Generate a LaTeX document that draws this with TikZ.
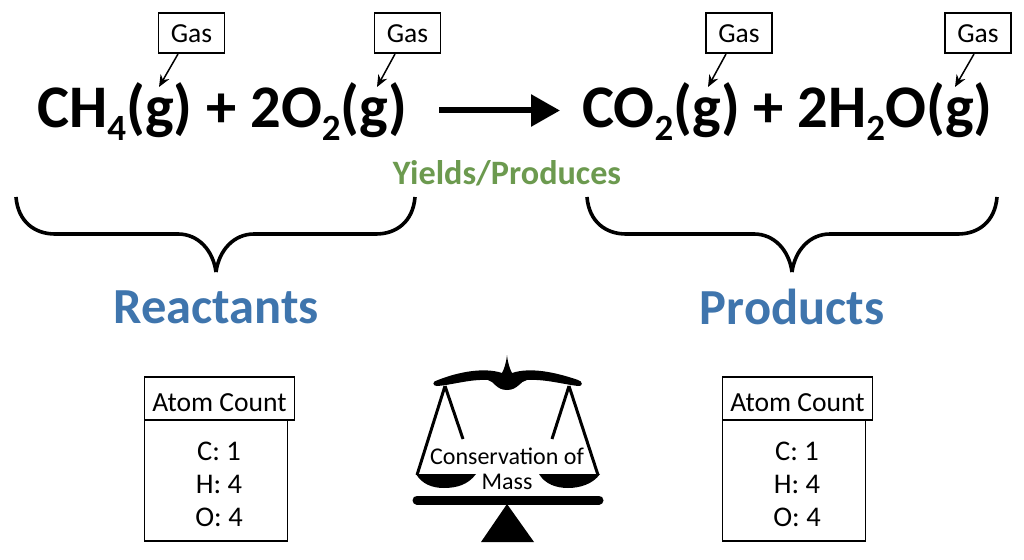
\documentclass[tikz,border=0pt]{standalone}
\usepackage{fontspec}
\setmainfont{Carlito}
\usetikzlibrary{arrows.meta}
\definecolor{bluetxt}{HTML}{3F75AD}
\definecolor{greentxt}{HTML}{6C9A4F}
\newcommand{\chemsub}[1]{\raisebox{-13pt}{\fontsize{37}{37}\selectfont #1}}
\tikzset{
  gasbox/.style={draw=black,line width=1.3pt,minimum width=66pt,minimum height=40pt,inner sep=0pt,text height=20pt,text depth=0pt,font=\fontsize{27.5}{27.5}\selectfont},
  gasarrow/.style={line width=1.5pt,-{Stealth[length=12pt,width=10pt]}},
  formula/.style={inner sep=0pt,font=\fontsize{60.5}{60.5}\selectfont\bfseries,anchor=base west},
  brace/.style={line width=3.6pt,line cap=butt},
  grouplabel/.style={inner sep=0pt,font=\fontsize{50.5}{50.5}\selectfont\bfseries,text=bluetxt},
  countbox/.style={draw=black,line width=1.3pt,inner sep=0pt},
  counthead/.style={countbox,minimum width=150pt,minimum height=43pt,text height=25pt,text depth=0pt,font=\fontsize{27.6}{27.6}\selectfont},
  counttext/.style={inner sep=0pt,font=\fontsize{28.5}{28.5}\selectfont,align=center},
  scaleline/.style={line width=3pt}
}
\begin{document}
\begin{tikzpicture}[x=1pt,y=-1pt]
\useasboundingbox (0,0) rectangle (1024,559);
\fill[white] (0,0) rectangle (1024,559);
% formulas
\node[formula] (left) at (37,128) {CH\chemsub{4}(g) + 2O\chemsub{2}(g)};
\node[formula] (right) at (582,128) {CO\chemsub{2}(g) + 2H\chemsub{2}O(g)};
% gas boxes
\node[gasbox] (g1) at (191.5,33) {Gas};
\node[gasbox] (g2) at (407.5,33) {Gas};
\node[gasbox] (g3) at (739,33) {Gas};
\node[gasbox] (g4) at (978,33) {Gas};
\coordinate (s1) at (178,54);
\coordinate (s2) at (395,54);
\coordinate (s3) at (726,54);
\coordinate (s4) at (974,54);
\coordinate (t1) at (159,87);
\coordinate (t2) at (377,87);
\coordinate (t3) at (708,87);
\coordinate (t4) at (955,87);
\draw[gasarrow] (s1) -- (t1);
\draw[gasarrow] (s2) -- (t2);
\draw[gasarrow] (s3) -- (t3);
\draw[gasarrow] (s4) -- (t4);
% arrow
\coordinate (a1) at (439,110.5);
\coordinate (a2) at (560,110.5);
\draw[line width=6pt,-{Triangle[length=29pt,width=31pt]}] (a1) -- (a2);
\node[inner sep=0pt,font=\fontsize{34.2}{34.2}\selectfont\bfseries,text=greentxt] (yields) at (507,173) {Yields/Produces};
% braces
\draw[brace] (16,197) .. controls (18,222) and (35,234) .. (55,234) -- (178,234) .. controls (198,234) and (213,250) .. (216,272);
\draw[brace] (415,197) .. controls (413,222) and (396,234) .. (376,234) -- (254,234) .. controls (234,234) and (219,250) .. (216,272);
\draw[brace] (587,197) .. controls (589,222) and (606,234) .. (626,234) -- (754,234) .. controls (774,234) and (789,250) .. (792,272);
\draw[brace] (997,197) .. controls (995,222) and (978,234) .. (958,234) -- (830,234) .. controls (810,234) and (795,250) .. (792,272);
\node[grouplabel] (reactants) at (216,307) {Reactants};
\node[grouplabel] (products) at (792,307) {Products};
% atom count left
\draw[countbox] (144.5,420) rectangle (287.5,541);
\node[counthead] (ac1) at (219.5,398.5) {Atom Count};
\node[counttext] (c1) at (219,451) {C: 1};
\node[counttext] (h1) at (219,484) {H: 4};
\node[counttext] (o1) at (219,517) {O: 4};
% atom count right
\draw[countbox] (722.5,420) rectangle (865.5,541);
\node[counthead] (ac2) at (797.5,398.5) {Atom Count};
\node[counttext] (c2) at (797,451) {C: 1};
\node[counttext] (h2) at (797,484) {H: 4};
\node[counttext] (o2) at (797,517) {O: 4};
% scale
\fill[black] (507,355) .. controls (508,364) and (510,369) .. (512,373)
  .. controls (530,367) and (555,372) .. (578,380)
  .. controls (583,381) and (583,387) .. (578,386)
  .. controls (562,384) and (545,379) .. (527,380)
  .. controls (520,381) and (518,390) .. (507,390)
  .. controls (496,390) and (494,381) .. (488,380)
  .. controls (470,379) and (452,385) .. (437,386)
  .. controls (432,386) and (432,381) .. (438,380)
  .. controls (458,372) and (484,367) .. (502,373)
  .. controls (504,369) and (506,364) .. (507,355) -- cycle;
\draw[scaleline] (445,386) -- (417,475);
\draw[scaleline] (445,386) -- (463,439);
\draw[scaleline] (569,386) -- (598,475);
\draw[scaleline] (569,386) -- (552,439);
\fill[black] (416,474) -- (476,474) .. controls (468,485) and (456,488) .. (444,488) .. controls (432,488) and (422,484) .. (416,474) -- cycle;
\fill[black] (539,474) -- (600,474) .. controls (593,484) and (580,488) .. (568,488) .. controls (556,488) and (545,484) .. (539,474) -- cycle;
\draw[line width=9pt,line cap=round] (417,500) -- (599,500);
\fill[black] (507,504) -- (534,542) -- (481,542) -- cycle;
\node[inner sep=0pt,font=\fontsize{24}{25.5}\selectfont,align=center] (cons) at (507,469) {Conservation of\\Mass};
\end{tikzpicture}
\end{document}
